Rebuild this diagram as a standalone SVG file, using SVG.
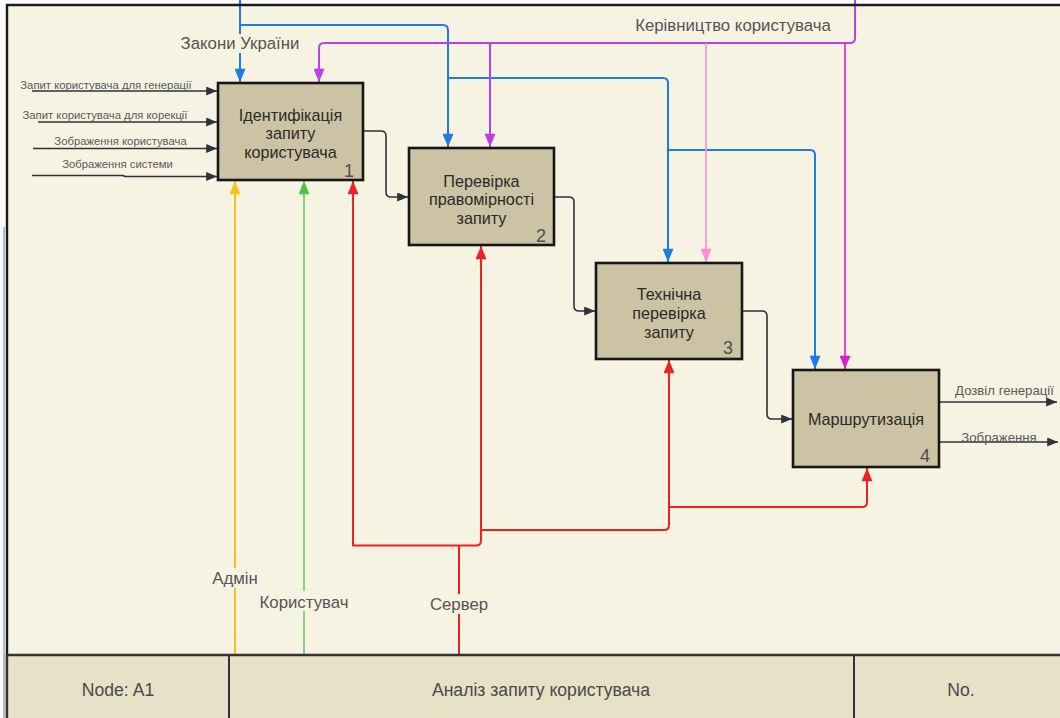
<svg xmlns="http://www.w3.org/2000/svg" width="1060" height="718" viewBox="0 0 1060 718">
  <style>
    .box { fill: #cbc3a3; stroke: #161616; stroke-width: 2.6; }
    .btxt { font-family: "Liberation Sans", Arial, sans-serif; font-size: 16.2px; fill: #2a2a2a; text-anchor: middle; }
    .num { font-family: "Liberation Sans", Arial, sans-serif; font-size: 18px; fill: #4a4f58; text-anchor: end; }
    .lbl { font-family: "Liberation Sans", Arial, sans-serif; font-size: 16.8px; fill: #555; text-anchor: middle; }
    .small { font-family: "Liberation Sans", Arial, sans-serif; font-size: 11.3px; fill: #5a5a5a; text-anchor: middle; }
    .out { font-family: "Liberation Sans", Arial, sans-serif; font-size: 13.2px; fill: #5a5a5a; text-anchor: middle; }
    .foot { font-family: "Liberation Sans", Arial, sans-serif; font-size: 17.6px; fill: #4a4a4a; text-anchor: middle; }
    .ln { fill: none; stroke-linejoin: round; }
    .dark { stroke: #2e323a; stroke-width: 1.6; }
    .blue { stroke: #1f7ae8; stroke-width: 2; }
    .purple { stroke: #b83ff3; stroke-width: 2; }
    .pink { stroke: #ff8ad9; stroke-width: 1.6; }
    .magenta { stroke: #e01fc0; stroke-width: 1.6; }
    .red { stroke: #ee2222; stroke-width: 2; }
    .yellow { stroke: #f6c21b; stroke-width: 2; }
    .green { stroke: #4cc24c; stroke-width: 1.3; }
    .bg { fill: #f7f3e3; }
  </style>
  <defs>
    <marker id="aDark" viewBox="0 0 12 10" refX="12" refY="5" markerWidth="13" markerHeight="9" markerUnits="userSpaceOnUse" orient="auto"><path d="M0,0 L12,5 L0,10 z" fill="#2e323a"/></marker>
    <marker id="aBlue" viewBox="0 0 12 10" refX="12" refY="5" markerWidth="14" markerHeight="11" markerUnits="userSpaceOnUse" orient="auto"><path d="M0,0 L12,5 L0,10 z" fill="#1f7ae8"/></marker>
    <marker id="aPurple" viewBox="0 0 12 10" refX="12" refY="5" markerWidth="14" markerHeight="11" markerUnits="userSpaceOnUse" orient="auto"><path d="M0,0 L12,5 L0,10 z" fill="#b83ff3"/></marker>
    <marker id="aPink" viewBox="0 0 12 10" refX="12" refY="5" markerWidth="14" markerHeight="11" markerUnits="userSpaceOnUse" orient="auto"><path d="M0,0 L12,5 L0,10 z" fill="#ff8ad9"/></marker>
    <marker id="aMagenta" viewBox="0 0 12 10" refX="12" refY="5" markerWidth="14" markerHeight="11" markerUnits="userSpaceOnUse" orient="auto"><path d="M0,0 L12,5 L0,10 z" fill="#e01fc0"/></marker>
    <marker id="aRed" viewBox="0 0 12 10" refX="12" refY="5" markerWidth="14" markerHeight="11" markerUnits="userSpaceOnUse" orient="auto"><path d="M0,0 L12,5 L0,10 z" fill="#ee2222"/></marker>
    <marker id="aYellow" viewBox="0 0 12 10" refX="12" refY="5" markerWidth="14" markerHeight="11" markerUnits="userSpaceOnUse" orient="auto"><path d="M0,0 L12,5 L0,10 z" fill="#f6c21b"/></marker>
    <marker id="aGreen" viewBox="0 0 12 10" refX="12" refY="5" markerWidth="14" markerHeight="11" markerUnits="userSpaceOnUse" orient="auto"><path d="M0,0 L12,5 L0,10 z" fill="#4cc24c"/></marker>
  </defs>

  <!-- page and frame -->
  <rect x="0" y="0" width="1060" height="718" fill="#fbfbfb"/>
  <rect x="3" y="227" width="2" height="491" fill="#b8bcc4"/>
  <rect x="7" y="5" width="1060" height="720" class="bg"/>

  <!-- connectors -->
  <g id="connectors">
    <!-- inputs -->
    <path class="ln dark" d="M32,91 H217" marker-end="url(#aDark)"/>
    <path class="ln dark" d="M38,122 H217" marker-end="url(#aDark)"/>
    <path class="ln dark" d="M33,148.5 H217" marker-end="url(#aDark)"/>
    <path class="ln dark" d="M32,175.5 H123 L125,176.5 H217" marker-end="url(#aDark)"/>

    <!-- flow between activities -->
    <path class="ln dark" d="M363,131 H381 Q386,131 386,136 V192 Q386,197 391,197 H408" marker-end="url(#aDark)"/>
    <path class="ln dark" d="M554,197 H569 Q574,197 574,202 V306 Q574,311 579,311 H595" marker-end="url(#aDark)"/>
    <path class="ln dark" d="M742,311 H762 Q767,311 767,316 V414 Q767,419 772,419 H792" marker-end="url(#aDark)"/>

    <!-- outputs -->
    <path class="ln dark" d="M940,402 H1057" marker-end="url(#aDark)"/>
    <path class="ln dark" d="M940,442 H1058" marker-end="url(#aDark)"/>

    <!-- controls: laws -->
    <path class="ln blue" d="M240,0 V82" marker-end="url(#aBlue)"/>
    <path class="ln blue" d="M240,25 H443 Q448,25 448,30 V147" marker-end="url(#aBlue)"/>
    <path class="ln blue" d="M448,78 H663 Q668,78 668,83 V262" marker-end="url(#aBlue)"/>
    <path class="ln blue" d="M668,150 H810 Q815,150 815,155 V369" marker-end="url(#aBlue)"/>

    <!-- controls: user guidance -->
    <path class="ln purple" d="M855,0 V38 Q855,43 850,43 H324 Q319,43 319,48 V82" marker-end="url(#aPurple)"/>
    <path class="ln purple" d="M490,43 V147" marker-end="url(#aPurple)"/>
    <path class="ln pink" d="M706,43 V262" marker-end="url(#aPink)"/>
    <path class="ln magenta" d="M845,43 V369" marker-end="url(#aMagenta)"/>

    <!-- mechanisms -->
    <path class="ln yellow" d="M235,655 V181" marker-end="url(#aYellow)"/>
    <path class="ln green" d="M304,655 V181" marker-end="url(#aGreen)"/>
    <path class="ln red" d="M459,655 V545.5 H353 V181" marker-end="url(#aRed)"/>
    <path class="ln red" d="M459,545.5 H476 Q481,545.5 481,540.5 V246" marker-end="url(#aRed)"/>
    <path class="ln red" d="M481,530 H664 Q669,530 669,525 V360" marker-end="url(#aRed)"/>
    <path class="ln red" d="M669,507 H862 Q867,507 867,502 V468" marker-end="url(#aRed)"/>
  </g>

  <!-- connector labels -->
  <g id="labels">
    <rect x="176" y="34" width="128" height="19" class="bg"/>
    <text class="lbl" x="240" y="49">Закони України</text>
    <text class="lbl" x="733" y="31">Керівництво користувача</text>

    <text class="small" x="106" y="89">Запит користувача для генерації</text>
    <text class="small" x="105" y="119">Запит користувача для корекції</text>
    <text class="small" x="120.5" y="145">Зображення користувача</text>
    <text class="small" x="117.5" y="168">Зображення системи</text>

    <text class="out" x="1004.5" y="395">Дозвіл генерації</text>
    <text class="out" x="999" y="441.5">Зображення</text>

    <rect x="208" y="568" width="54" height="20" class="bg"/>
    <text class="lbl" x="235" y="584">Адмін</text>
    <rect x="254" y="591" width="100" height="20" class="bg"/>
    <text class="lbl" x="304" y="607.5">Користувач</text>
    <rect x="426" y="594" width="66" height="20" class="bg"/>
    <text class="lbl" x="459" y="610">Сервер</text>
  </g>

  <!-- activities -->
  <g id="node1">
    <rect class="box" x="218" y="83" width="145" height="97"/>
    <text class="btxt" x="290.5" y="120.5">Ідентифікація</text>
    <text class="btxt" x="290.5" y="139">запиту</text>
    <text class="btxt" x="290.5" y="158">користувача</text>
    <text class="num" x="354" y="177">1</text>
  </g>
  <g id="node2">
    <rect class="box" x="409" y="148" width="145" height="97"/>
    <text class="btxt" x="481.5" y="186.5">Перевірка</text>
    <text class="btxt" x="481.5" y="205">правомірності</text>
    <text class="btxt" x="481.5" y="223.5">запиту</text>
    <text class="num" x="546" y="241.5">2</text>
  </g>
  <g id="node3">
    <rect class="box" x="596" y="263" width="146" height="96"/>
    <text class="btxt" x="669" y="299.5">Технічна</text>
    <text class="btxt" x="669" y="318.5">перевірка</text>
    <text class="btxt" x="669" y="337.5">запиту</text>
    <text class="num" x="733" y="354">3</text>
  </g>
  <g id="node4">
    <rect class="box" x="793" y="370" width="146" height="97"/>
    <text class="btxt" x="866" y="425">Маршрутизація</text>
    <text class="num" x="930" y="462">4</text>
  </g>

  <!-- frame border and title block -->
  <g id="frame">
    <path d="M7,718 V5 H1060" fill="none" stroke="#1c1c1c" stroke-width="2.4"/>
    <rect x="7" y="655" width="1060" height="70" fill="#e7e1c8"/>
    <path d="M7,655 H1060" stroke="#30343a" stroke-width="2.4"/>
    <path d="M7,655 V718" stroke="#30343a" stroke-width="2.4"/>
    <path d="M229,655 V718 M854,655 V718" stroke="#30343a" stroke-width="2"/>
    <text class="foot" x="118" y="696">Node: A1</text>
    <text class="foot" x="541" y="696">Аналіз запиту користувача</text>
    <text class="foot" x="961" y="696">No.</text>
  </g>
</svg>
